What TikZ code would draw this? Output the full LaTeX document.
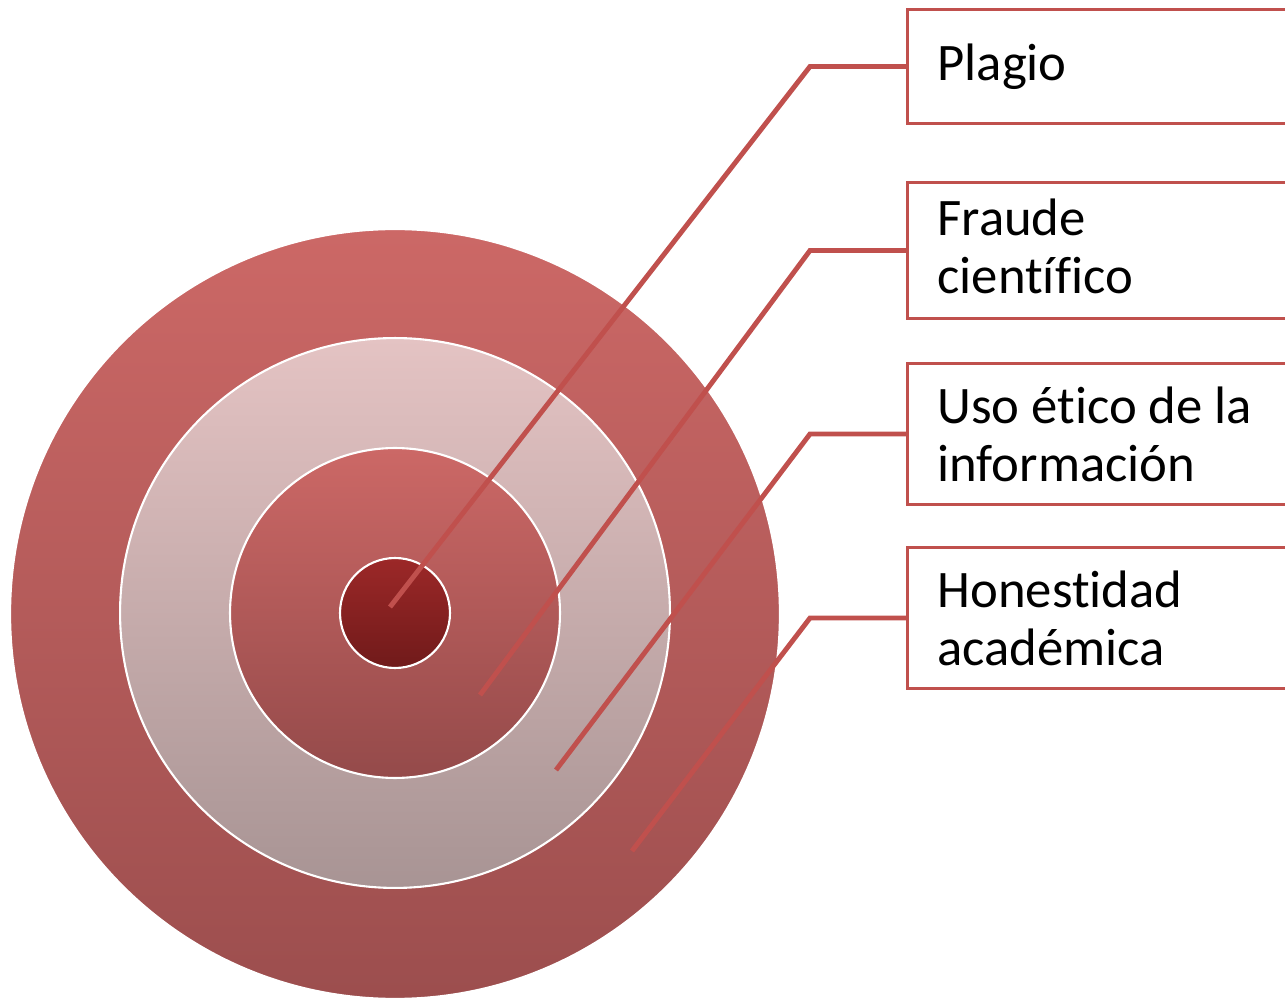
\documentclass[tikz,border=0pt]{standalone}
\usepackage{fontspec}
\setmainfont[Ligatures=NoCommon]{Carlito}
\usepackage{tikz}
\usetikzlibrary{positioning,calc}
\definecolor{linered}{HTML}{C0504D}
\definecolor{ringtop}{HTML}{CC6866}
\definecolor{ringbot}{HTML}{9C4E4E}
\definecolor{paletop}{HTML}{E4C3C3}
\definecolor{palebot}{HTML}{A89494}
\definecolor{coretop}{HTML}{9C2828}
\definecolor{corebot}{HTML}{701A1A}
\newcommand\boxfont{\fontsize{30}{33}\selectfont}

\begin{document}
\begin{tikzpicture}[x=0.02cm,y=-0.02cm,
  ring/.style={circle,draw=white,line width=1.2pt,inner sep=0pt},
  label/.style={draw=linered,line width=1.7pt,fill=white,anchor=north west,
    minimum width=8.6cm,text width=7.5cm,inner xsep=0.6cm,align=flush left,
    font=\boxfont},
  link/.style={draw=linered,line width=2.8pt}]
\useasboundingbox (0,0) rectangle (1285,999);
% target
\node[ring,minimum size=15.4cm,top color=ringtop,bottom color=ringbot] (outer) at (395,614) {};
\node[ring,minimum size=11cm,top color=paletop,bottom color=palebot] (middle) at (395,613) {};
\node[ring,minimum size=6.6cm,top color=ringtop,bottom color=ringbot!95!black] (inner) at (395,613) {};
\node[ring,minimum size=2.2cm,top color=coretop,bottom color=corebot] (core) at (395,613) {};
% free ends of the links
\coordinate (p1) at (390,607);
\coordinate (p2) at (480,695);
\coordinate (p3) at (556,770);
\coordinate (p4) at (632,851);
% boxes
\node[label,minimum height=2.28cm] (plagio) at (906,8) {Plagio};
\node[label,minimum height=2.72cm] (fraude) at (906,181) {Fraude\\ científico\vphantom{p}};
\node[label,minimum height=2.82cm] (uso) at (906,362) {Uso ético de la\\ información};
\node[label,minimum height=2.82cm] (hones) at (906,546) {Honestidad\\ académica};
% links
\foreach \p/\b in {p1/plagio,p2/fraude,p3/uso,p4/hones}
  \draw[link] (\p) -- ([xshift=-1.92cm]\b.west) -- (\b.west);
\end{tikzpicture}
\end{document}
